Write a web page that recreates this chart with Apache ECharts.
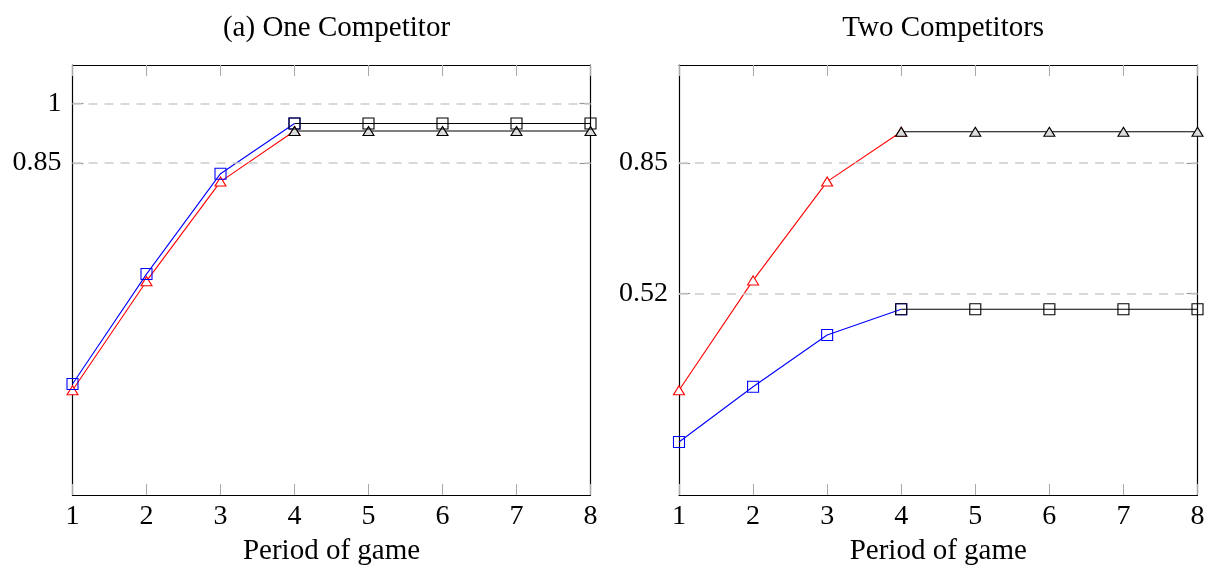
<!DOCTYPE html>
<html>
<head>
<meta charset="utf-8">
<script src="https://cdn.jsdelivr.net/npm/echarts@6/dist/echarts.min.js"></script>
<style>
html,body{margin:0;padding:0;background:#fff;}
#chart{width:1211px;height:574px;}
</style>
</head>
<body>
<div id="chart"></div>
<script>
const periods = [1, 2, 3, 4, 5, 6, 7, 8];
const oneTriangle = [0.275, 0.551, 0.803, 0.931, 0.931, 0.931, 0.931, 0.931];
const oneSquare   = [0.291, 0.569, 0.823, 0.950, 0.950, 0.950, 0.950, 0.950];
const twoTriangle = [0.275, 0.553, 0.803, 0.929, 0.929, 0.929, 0.929, 0.929];
const twoSquare   = [0.144, 0.284, 0.415, 0.480, 0.480, 0.480, 0.480, 0.480];
const oneYTicks = [0.85, 1];
const twoYTicks = [0.52, 0.85];
const panelTitles = ['(a) One Competitor', 'Two Competitors'];
const xAxisTitle = 'Period of game';
const splitPeriod = 4;

const FONT = '"Liberation Serif", "DejaVu Serif", serif';
const Y_MIN = 0.01, Y_MAX = 1.098;

function pairs(vals, from, to) {
  const out = [];
  periods.forEach((p, i) => { if (p >= from && p <= to) out.push([p, vals[i]]); });
  return out;
}

const grids = [
  {left: 72.5, right: 620.5, top: 65, bottom: 79},
  {left: 679, right: 13.5, top: 65, bottom: 79}
];

const xAxes = [], yAxes = [], series = [], titles = [];
const panels = [
  {tri: oneTriangle, sq: oneSquare, ticks: oneYTicks},
  {tri: twoTriangle, sq: twoSquare, ticks: twoYTicks}
];

panels.forEach((pn, g) => {
  const gr = grids[g];
  const cx = gr.left + (1211 - gr.left - gr.right) / 2;
  titles.push({
    text: panelTitles[g], left: cx, top: 9, textAlign: 'center',
    textStyle: {fontFamily: FONT, fontSize: 29, fontWeight: 'normal', color: '#000'}
  });
  xAxes.push({
    gridIndex: g, type: 'value', min: 1, max: 8, interval: 1, position: 'bottom',
    name: xAxisTitle, nameLocation: 'middle', nameGap: 42,
    nameTextStyle: {fontFamily: FONT, fontSize: 29, color: '#000'},
    axisLine: {lineStyle: {color: '#000', width: 1.2}},
    axisTick: {inside: true, length: 11, lineStyle: {color: '#aaa', width: 1}},
    axisLabel: {fontFamily: FONT, fontSize: 28, color: '#000', margin: 8},
    splitLine: {show: false}
  });
  xAxes.push({
    gridIndex: g, type: 'value', min: 1, max: 8, interval: 1, position: 'top',
    axisLine: {show: true, lineStyle: {color: '#000', width: 1.2}},
    axisTick: {inside: true, length: 11, lineStyle: {color: '#aaa', width: 1}},
    axisLabel: {show: false}, splitLine: {show: false}
  });
  yAxes.push({
    gridIndex: g, type: 'value', min: Y_MIN, max: Y_MAX, position: 'left',
    axisLine: {show: true, lineStyle: {color: '#000', width: 1.2}},
    axisTick: {show: true, inside: true, length: 11, customValues: pn.ticks, lineStyle: {color: '#999', width: 1.2}},
    axisLabel: {show: true, customValues: pn.ticks, fontFamily: FONT, fontSize: 28, color: '#000', margin: 11,
      formatter: v => String(v)},
    splitLine: {show: false}
  });
  yAxes.push({
    gridIndex: g, type: 'value', min: Y_MIN, max: Y_MAX, position: 'right',
    axisLine: {show: true, lineStyle: {color: '#000', width: 1.2}},
    axisTick: {show: true, inside: true, length: 11, customValues: pn.ticks, lineStyle: {color: '#999', width: 1.2}},
    axisLabel: {show: false},
    splitLine: {show: false}
  });
  const xi = g * 2, yi = g * 2;
  series.push({
    type: 'line', xAxisIndex: xi, yAxisIndex: yi, data: [], silent: true,
    markLine: {
      silent: true, symbol: 'none', animation: false,
      label: {show: false},
      lineStyle: {color: '#cccccc', type: [9, 7], width: 1.5},
      data: pn.ticks.map(t => ({yAxis: t}))
    }
  });
  const common = {type: 'line', xAxisIndex: xi, yAxisIndex: yi, animation: false, z: 3};
  series.push(Object.assign({}, common, {
    data: pairs(pn.tri, 1, splitPeriod), symbol: 'triangle', symbolSize: [11, 9],
    lineStyle: {color: '#ff0000', width: 1.1},
    itemStyle: {color: '#ffffff', borderColor: '#ff0000', borderWidth: 1.1}
  }));
  series.push(Object.assign({}, common, {
    data: pairs(pn.sq, 1, splitPeriod), symbol: 'rect', symbolSize: 11,
    lineStyle: {color: '#0000ff', width: 1.1},
    itemStyle: {color: 'rgba(255,255,255,0)', borderColor: '#0000ff', borderWidth: 1.1}
  }));
  series.push(Object.assign({}, common, {
    data: pairs(pn.tri, splitPeriod, 8), symbol: 'triangle', symbolSize: [11, 9], z: 4,
    lineStyle: {color: '#000000', width: 1.1},
    itemStyle: {color: '#dddddd', borderColor: '#000000', borderWidth: 1.1}
  }));
  series.push(Object.assign({}, common, {
    data: pairs(pn.sq, splitPeriod, 8), symbol: 'rect', symbolSize: 11, z: 4,
    lineStyle: {color: '#000000', width: 1.1},
    itemStyle: {color: 'rgba(255,255,255,0)', borderColor: '#000000', borderWidth: 1.1}
  }));
});

const chart = echarts.init(document.getElementById('chart'), null, {renderer: 'canvas'});
chart.setOption({
  backgroundColor: '#ffffff',
  animation: false,
  title: titles,
  grid: grids,
  xAxis: xAxes,
  yAxis: yAxes,
  series: series
});
</script>
</body>
</html>
